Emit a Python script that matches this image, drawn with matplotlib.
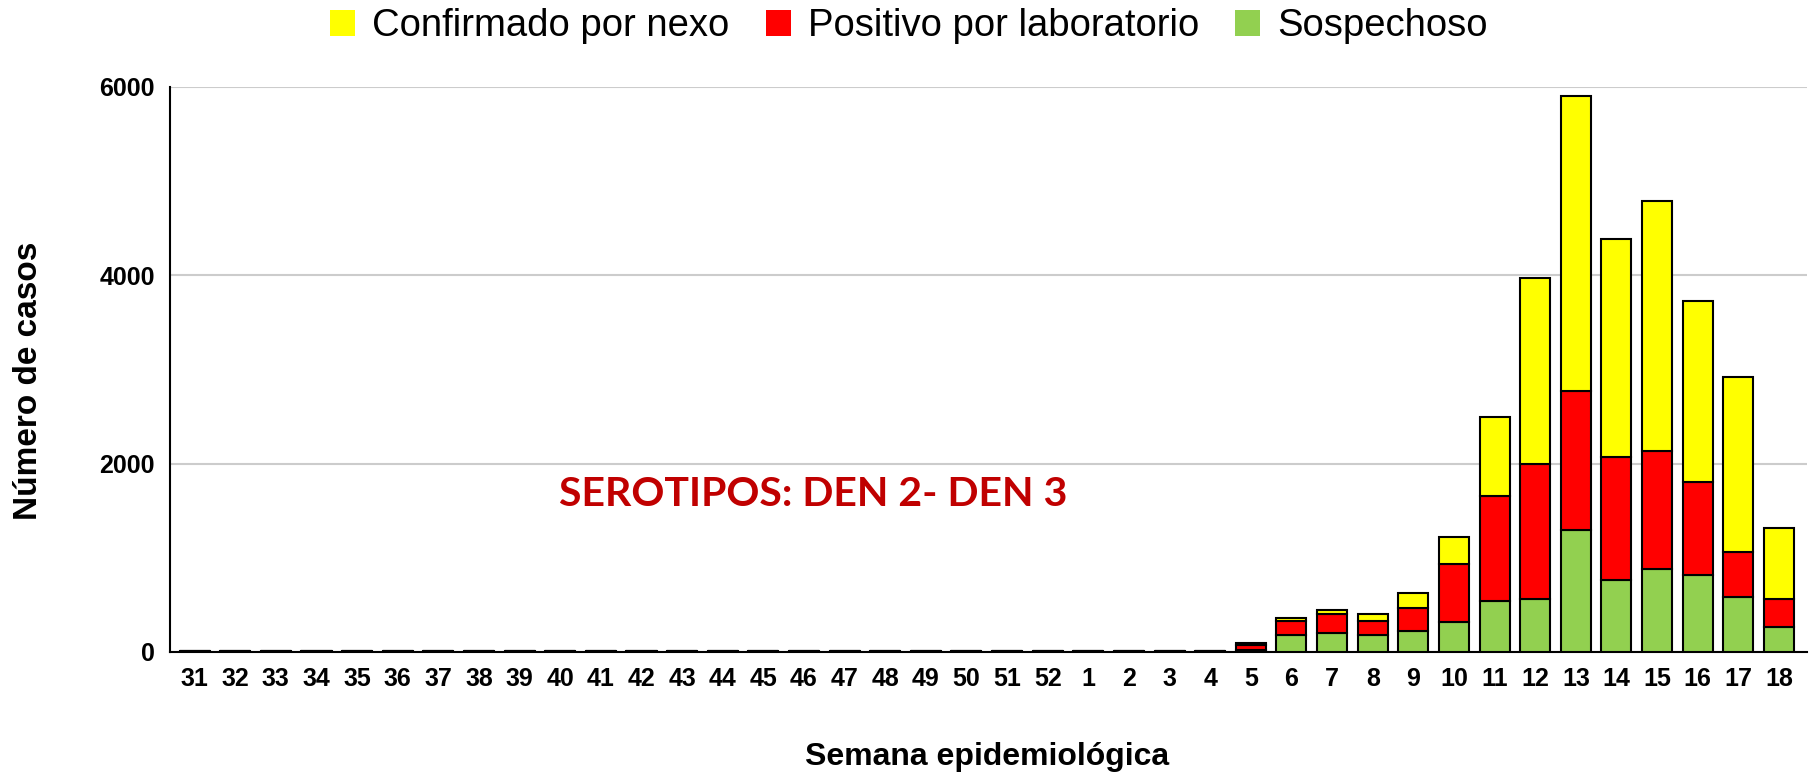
import numpy as np
import matplotlib.pyplot as plt
from matplotlib.patches import Patch

plt.rcParams['font.family'] = ['Liberation Sans', 'DejaVu Sans']

semanas = ["31", "32", "33", "34", "35", "36", "37", "38", "39", "40", "41", "42",
           "43", "44", "45", "46", "47", "48", "49", "50", "51", "52", "1", "2",
           "3", "4", "5", "6", "7", "8", "9", "10", "11", "12", "13", "14", "15",
           "16", "17", "18"]

sospechoso = [12] * 26 + [15, 176, 197, 176, 218, 314, 541, 566, 1296, 767,
                          880, 813, 583, 268]
positivo = [0] * 26 + [55, 155, 210, 147, 251, 616, 1115, 1434, 1475, 1300,
                       1254, 986, 478, 298]
confirmado = [0] * 26 + [20, 30, 42, 75, 160, 286, 839, 1975, 3137, 2314,
                         2654, 1928, 1861, 746]

series = ["Confirmado por nexo", "Positivo por laboratorio", "Sospechoso"]
colores = ["#FFFF00", "#FF0000", "#92D050"]

x = np.arange(len(semanas))
sospechoso = np.array(sospechoso)
positivo = np.array(positivo)
confirmado = np.array(confirmado)

fig = plt.figure(figsize=(18.11, 7.76), dpi=100)
ax = fig.add_axes([0.094, 0.160, 0.904, 0.728])

w = 0.74
ax.bar(x, sospechoso, w, color=colores[2], edgecolor="black", linewidth=1.5, zorder=3)
ax.bar(x, positivo, w, bottom=sospechoso, color=colores[1], edgecolor="black",
       linewidth=1.5, zorder=3)
ax.bar(x, confirmado, w, bottom=sospechoso + positivo, color=colores[0],
       edgecolor="black", linewidth=1.5, zorder=3)

ax.set_xlim(-0.6, len(semanas) - 0.3)
ax.set_ylim(0, 6000)
ax.set_yticks([0, 2000, 4000, 6000])
ax.set_xticks(x)
ax.set_xticklabels(semanas, fontsize=18, fontweight="bold")
for t in ax.get_yticklabels():
    t.set_fontsize(18)
    t.set_fontweight("bold")
ax.tick_params(axis="both", length=0)
ax.tick_params(axis="x", pad=11)
ax.tick_params(axis="y", pad=11)
ax.grid(axis="y", color="#cccccc", linewidth=1.5, zorder=0)
ax.spines["top"].set_visible(False)
ax.spines["right"].set_visible(False)
ax.spines["left"].set_linewidth(1.5)
ax.spines["bottom"].set_linewidth(1.5)

ax.set_ylabel("Número de casos", fontsize=24, fontweight="bold")
ax.yaxis.set_label_coords(-0.077, 0.48)
ax.set_xlabel("Semana epidemiológica", fontsize=23, fontweight="bold")
ax.xaxis.set_label_coords(0.499, -0.16)

ax.text(0.393, 0.279, "SEROTIPOS: DEN 2- DEN 3", transform=ax.transAxes,
        fontsize=29.5, fontweight="bold", color="#C00000", ha="center", va="center",
        family=["Lato", "DejaVu Sans"])

handles = [Patch(facecolor=c, edgecolor="none") for c in colores]
fig.legend(handles, series, loc="center", bbox_to_anchor=(0.502, 0.966), ncol=3,
           frameon=False, fontsize=27.5, handlelength=0.65, handleheight=0.65,
           handletextpad=0.45, columnspacing=0.95)

fig.savefig("out.png", dpi=100)
